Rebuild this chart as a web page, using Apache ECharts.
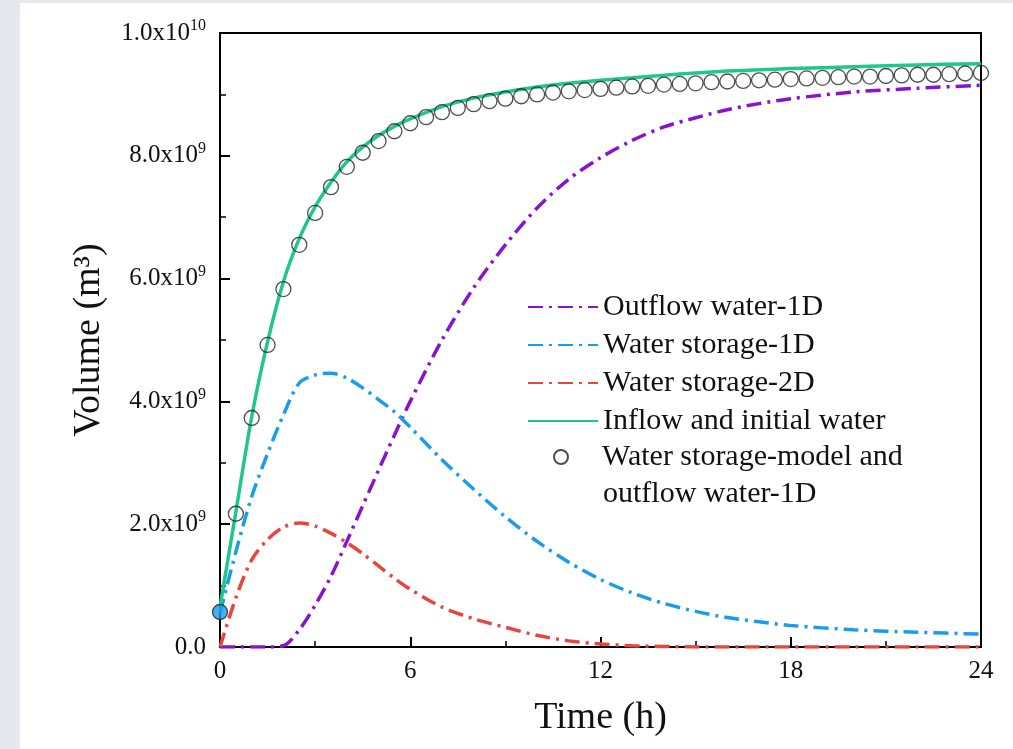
<!DOCTYPE html>
<html>
<head>
<meta charset="utf-8">
<title>Volume vs time</title>
<script src="https://cdn.jsdelivr.net/npm/echarts@6/dist/echarts.min.js"></script>
<style>
	html, body { margin: 0; padding: 0; background: #e5e8ee; }
	#panel { position: absolute; left: 20px; top: 3px; right: 0; bottom: 0; background: #ffffff; }
	#chart { position: absolute; left: 0; top: 0; width: 1013px; height: 749px; }
</style>
</head>
<body>
<div id="panel"></div>
<div id="chart"></div>
<script>
// time axis of the simulated curves (h)
var tCurve = [0, 0.5, 1, 1.5, 2, 2.5, 3, 3.5, 4, 4.5, 5, 5.5, 6, 7, 8, 9, 10, 11, 12, 13, 14, 15, 16, 17, 18, 20, 22, 24];

// volumes in 10^9 m3
var outflow1D = [0, 0, 0, 0, 0.02, 0.28, 0.68, 1.15, 1.72, 2.3, 2.88, 3.45, 4.0, 5.0, 5.85, 6.55, 7.15, 7.62, 7.97, 8.25, 8.47, 8.62, 8.75, 8.85, 8.93, 9.04, 9.1, 9.15];
var storage1D = [0.55, 1.55, 2.45, 3.15, 3.78, 4.3, 4.43, 4.46, 4.38, 4.22, 4.03, 3.83, 3.58, 3.05, 2.57, 2.12, 1.72, 1.38, 1.1, 0.88, 0.71, 0.58, 0.48, 0.41, 0.35, 0.28, 0.24, 0.21];
var storage2D = [0, 0.8, 1.42, 1.75, 1.95, 2.02, 1.97, 1.85, 1.7, 1.52, 1.32, 1.12, 0.94, 0.65, 0.46, 0.32, 0.19, 0.1, 0.05, 0.02, 0.01, 0, 0, 0, 0, 0, 0, 0];
var inflow = [0.65, 2.2, 3.75, 4.97, 5.95, 6.65, 7.17, 7.57, 7.9, 8.14, 8.33, 8.48, 8.6, 8.8, 8.94, 9.04, 9.12, 9.18, 9.23, 9.27, 9.31, 9.35, 9.38, 9.4, 9.42, 9.45, 9.48, 9.5];

// model points (circles)
var tModel = [0, 0.5, 1, 1.5, 2, 2.5, 3, 3.5, 4, 4.5, 5, 5.5, 6, 6.5, 7, 7.5, 8, 8.5, 9, 9.5, 10, 10.5, 11, 11.5, 12, 12.5, 13, 13.5, 14, 14.5, 15, 15.5, 16, 16.5, 17, 17.5, 18, 18.5, 19, 19.5, 20, 20.5, 21, 21.5, 22, 22.5, 23, 23.5, 24];
var modelStorage = [0.57, 2.17, 3.73, 4.92, 5.83, 6.55, 7.07, 7.49, 7.82, 8.05, 8.24, 8.4, 8.53, 8.63, 8.71, 8.78, 8.84, 8.89, 8.93, 8.97, 9.0, 9.03, 9.05, 9.07, 9.09, 9.11, 9.13, 9.14, 9.16, 9.17, 9.18, 9.2, 9.21, 9.22, 9.23, 9.24, 9.25, 9.26, 9.27, 9.28, 9.29, 9.29, 9.3, 9.31, 9.32, 9.32, 9.33, 9.34, 9.35];

// y tick labels: mantissa and exponent
var yTickValues = [0, 2, 4, 6, 8, 10];
var yTickBase = ['0.0', '2.0x10', '4.0x10', '6.0x10', '8.0x10', '1.0x10'];
var yTickExp = ['', '9', '9', '9', '9', '10'];

var seriesNames = ['Outflow water-1D', 'Water storage-1D', 'Water storage-2D', 'Inflow and initial water', 'Water storage-model and'];

var colors = {
	outflow: '#8a12cc',
	store1: '#1a9cec',
	store2: '#e8463c',
	inflow: '#1fc78c'
};

function pairs(xs, ys) {
	var out = [];
	for (var i = 0; i < xs.length; i++) {
		out.push([xs[i], ys[i]]);
	}
	return out;
}

var serif = "'Liberation Serif', 'Times New Roman', serif";
var dashDot = [15, 6, 3, 6];

function dashLine(name, values, color) {
	return {
		name: name,
		type: 'line',
		data: pairs(tCurve, values),
		smooth: 0.3,
		showSymbol: false,
		symbol: 'none',
		lineStyle: { color: color, width: 3.5, type: dashDot },
		itemStyle: { color: color },
		z: 3
	};
}

// first circle sits on the blue curve's start and is drawn filled
var modelData = pairs(tModel, modelStorage);
modelData[0] = { value: modelData[0], itemStyle: { color: colors.store1 } };

var option = {
	backgroundColor: 'transparent',
	animation: false,
	grid: {
		left: 220, right: 32, top: 33, bottom: 102,
		show: true, borderColor: '#000', borderWidth: 2, backgroundColor: 'transparent'
	},
	legend: [{
		data: seriesNames.slice(0, 4),
		orient: 'vertical',
		left: 527, top: 292, padding: 0,
		itemWidth: 70, itemHeight: 14, itemGap: 8,
		itemStyle: { opacity: 0 },
		textStyle: { fontFamily: serif, fontSize: 30, color: '#111' }
	}, {
		data: [seriesNames[4]],
		orient: 'vertical',
		left: 553, top: 442, padding: 0,
		itemWidth: 14, itemHeight: 14,
		textStyle: { fontFamily: serif, fontSize: 30, color: '#111', padding: [0, 0, 0, 29] }
	}],
	graphic: [{
		type: 'text',
		left: 603, top: 479,
		style: { text: 'outflow water-1D', fontFamily: serif, fontSize: 30, fill: '#111' }
	}],
	xAxis: {
		type: 'value',
		min: 0, max: 24, interval: 6,
		name: 'Time (h)',
		nameLocation: 'middle',
		nameGap: 52,
		nameTextStyle: { fontFamily: serif, fontSize: 38, color: '#111' },
		axisLine: { lineStyle: { color: '#000', width: 2 } },
		axisTick: { inside: true, length: 10, lineStyle: { color: '#000', width: 2 } },
		minorTick: { show: true, splitNumber: 2, length: 6, lineStyle: { color: '#000', width: 1.5 } },
		splitLine: { show: false },
		axisLabel: { fontFamily: serif, fontSize: 25, color: '#111', margin: 12 }
	},
	yAxis: {
		type: 'value',
		min: 0, max: 10, interval: 2,
		name: 'Volume (m³)',
		nameLocation: 'middle',
		nameGap: 112,
		nameTextStyle: { fontFamily: serif, fontSize: 38, color: '#111' },
		axisLine: { lineStyle: { color: '#000', width: 2 } },
		axisTick: { inside: true, length: 10, lineStyle: { color: '#000', width: 2 } },
		minorTick: { show: true, splitNumber: 2, length: 6, lineStyle: { color: '#000', width: 1.5 } },
		splitLine: { show: false },
		axisLabel: {
			margin: 14,
			formatter: function (v) {
				var i = yTickValues.indexOf(v);
				if (i < 0) return '';
				if (!yTickExp[i]) return '{b|' + yTickBase[i] + '}';
				return '{b|' + yTickBase[i] + '}{s|' + yTickExp[i] + '}';
			},
			rich: {
				b: { fontFamily: serif, fontSize: 25, color: '#111', lineHeight: 30 },
				s: { fontFamily: serif, fontSize: 16, color: '#111', verticalAlign: 'top', lineHeight: 30, padding: [0, 0, 14, 0] }
			}
		}
	},
	series: [
		dashLine(seriesNames[0], outflow1D, colors.outflow),
		dashLine(seriesNames[1], storage1D, colors.store1),
		dashLine(seriesNames[2], storage2D, colors.store2),
		{
			name: seriesNames[3],
			type: 'line',
			data: pairs(tCurve, inflow),
			smooth: 0.3,
			showSymbol: false,
			symbol: 'none',
			lineStyle: { color: colors.inflow, width: 3.5 },
			itemStyle: { color: colors.inflow },
			z: 4
		},
		{
			name: seriesNames[4],
			type: 'scatter',
			data: modelData,
			symbol: 'circle',
			symbolSize: 15,
			itemStyle: { color: 'rgba(255,255,255,0)', borderColor: '#222', borderWidth: 1.3 },
			z: 5
		}
	]
};

var myChart = echarts.init(document.getElementById('chart'));
myChart.setOption(option);
</script>
</body>
</html>
